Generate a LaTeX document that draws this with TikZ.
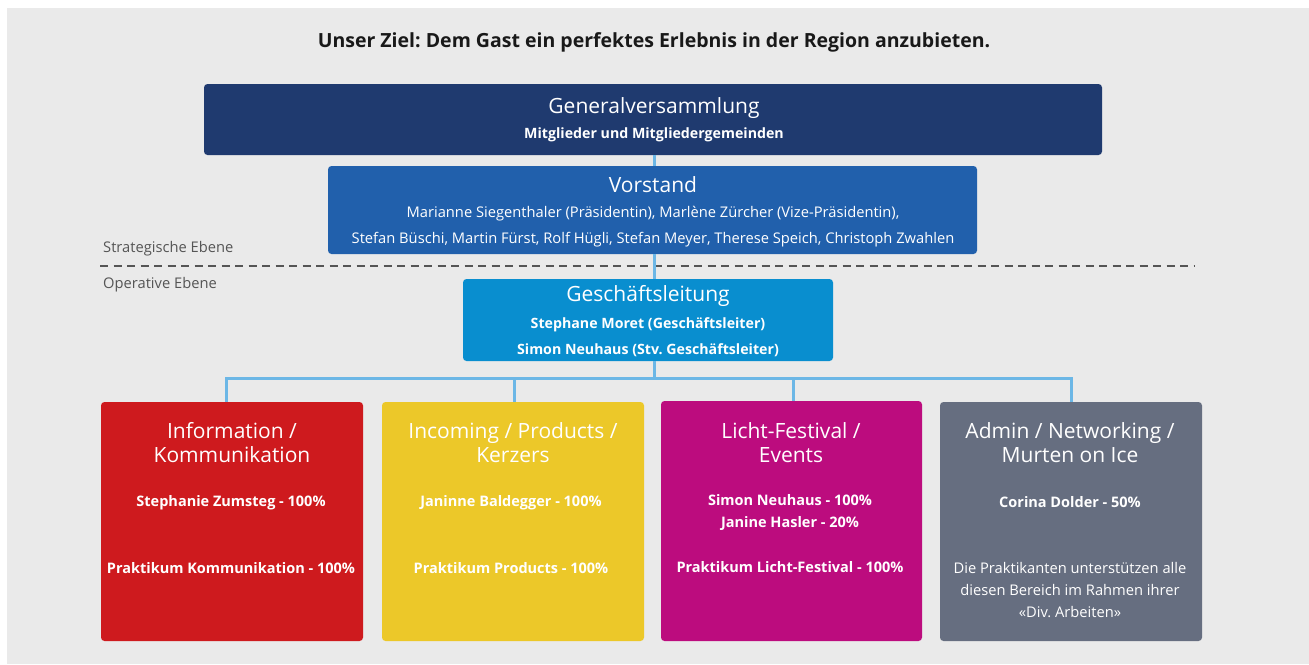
\documentclass[tikz,border=0pt]{standalone}
\usepackage{fontspec}
\setmainfont{Open Sans}
\frenchspacing
\definecolor{bgc}{HTML}{EAEAEA}
\definecolor{gvc}{HTML}{1F3A6F}
\definecolor{vsc}{HTML}{2160AC}
\definecolor{glc}{HTML}{098ECF}
\definecolor{connc}{HTML}{6CB7E6}
\definecolor{redc}{HTML}{CE1A1E}
\definecolor{yelc}{HTML}{ECC829}
\definecolor{magc}{HTML}{BC0C7E}
\definecolor{grayc}{HTML}{666E80}
\definecolor{lblc}{HTML}{555555}
\begin{document}
\begin{tikzpicture}[x=1pt,y=-1pt,
  orgbox/.style={rounded corners=3.5pt, inner sep=0pt, draw=none},
  conn/.style={draw=connc, line width=3pt},
  wt/.style={text=white, inner sep=0pt, align=center},
  ttl/.style={wt, font=\fontsize{21}{24}\selectfont},
  sub/.style={wt, font=\bfseries\fontsize{14.2}{22}\selectfont},
  dsub/.style={wt, font=\bfseries\fontsize{14.5}{22}\selectfont},
  reg/.style={wt, font=\fontsize{14.7}{22}\selectfont},
  lvl/.style={text=lblc, inner sep=0pt, anchor=west, font=\fontsize{14.7}{16}\selectfont}
]
\useasboundingbox (0,0) rectangle (1309,664);
\fill[bgc] (7,8) rectangle (1309,664);

% title
\node[inner sep=0pt, font=\bfseries\fontsize{19.5}{22}\selectfont, text=black!90] (title) at (654,42) {Unser Ziel: Dem Gast ein perfektes Erlebnis in der Region anzubieten.};

% Generalversammlung
\node[orgbox, fill=gvc, minimum width=898pt, minimum height=71pt] (gv) at (653,119.5) {};
\node[ttl] (gvt) at (654,108.5) {Generalversammlung};
\node[sub] (gvs) at (654,134.5) {Mitglieder und Mitgliedergemeinden};

% Vorstand
\node[orgbox, fill=vsc, minimum width=649pt, minimum height=88pt] (vs) at (652.5,210) {};
\node[ttl] (vst) at (653,184.5) {Vorstand};
\node[reg] (vs1) at (653,213.5) {Marianne Siegenthaler (Präsidentin), Marlène Zürcher (Vize-Präsidentin),};
\node[reg] (vs2) at (653,239.5) {Stefan Büschi, Martin Fürst, Rolf Hügli, Stefan Meyer, Therese Speich, Christoph Zwahlen};

% levels
\node[lvl] (strat) at (103,249) {Strategische Ebene};
\node[lvl] (oper) at (103,285) {Operative Ebene};
\coordinate (dl) at (100,266);
\coordinate (dr) at (1195,266);
\draw[lblc, line width=1.2pt, dash pattern=on 8pt off 5.5pt] (dl) -- (dr);

% Geschaeftsleitung
\node[orgbox, fill=glc, minimum width=370pt, minimum height=82pt] (gl) at (648,320) {};
\node[ttl] (glt) at (648,296) {Geschäftsleitung};
\node[sub] (gl1) at (648,324.5) {Stephane Moret (Geschäftsleiter)};
\node[sub] (gl2) at (648,350.5) {Simon Neuhaus (Stv. Geschäftsleiter)};

% departments
\node[orgbox, fill=redc, minimum width=262pt, minimum height=239pt] (red) at (232,521.5) {};
\node[orgbox, fill=yelc, minimum width=262pt, minimum height=239pt] (yel) at (513,521.5) {};
\node[orgbox, fill=magc, minimum width=261pt, minimum height=240pt] (mag) at (791.5,521) {};
\node[orgbox, fill=grayc, minimum width=262pt, minimum height=239pt] (gry) at (1071,521.5) {};

\node[ttl] (redt) at (232,443) {Information /\\Kommunikation};
\node[dsub] (red1) at (231,502.5) {Stephanie Zumsteg - 100\%};
\node[dsub] (red2) at (231,568.5) {Praktikum Kommunikation - 100\%};

\node[ttl] (yelt) at (513,443) {Incoming / Products /\\Kerzers};
\node[dsub] (yel1) at (511,502.5) {Janinne Baldegger - 100\%};
\node[dsub] (yel2) at (511,568.5) {Praktikum Products - 100\%};

\node[ttl] (magt) at (791,443) {Licht-Festival /\\Events};
\node[dsub] (mag1) at (790,513) {Simon Neuhaus - 100\%\\Janine Hasler - 20\%};
\node[dsub] (mag2) at (790,567.5) {Praktikum Licht-Festival - 100\%};

\node[ttl] (gryt) at (1070,443) {Admin / Networking /\\Murten on Ice};
\node[dsub] (gry1) at (1070,502) {Corina Dolder - 50\%};
\node[reg] (gry2) at (1070,590) {Die Praktikanten unterstützen alle\\diesen Bereich im Rahmen ihrer\\«Div. Arbeiten»};

% connectors
\coordinate (jx) at (654,0);
\coordinate (bus) at (654,378);
\coordinate (d1) at (226,378);
\coordinate (d2) at (514,378);
\coordinate (d3) at (793,378);
\coordinate (d4) at (1071,378);
\draw[conn] (gv.south -| jx) -- (vs.north -| jx);
\draw[conn] (vs.south -| jx) -- (gl.north -| jx);
\draw[conn] (gl.south -| jx) -- (bus);
\draw[conn, line cap=rect] (d1) -- (d4);
\draw[conn] (d1) -- (red.north -| d1);
\draw[conn] (d2) -- (yel.north -| d2);
\draw[conn] (d3) -- (mag.north -| d3);
\draw[conn] (d4) -- (gry.north -| d4);
\end{tikzpicture}
\end{document}
